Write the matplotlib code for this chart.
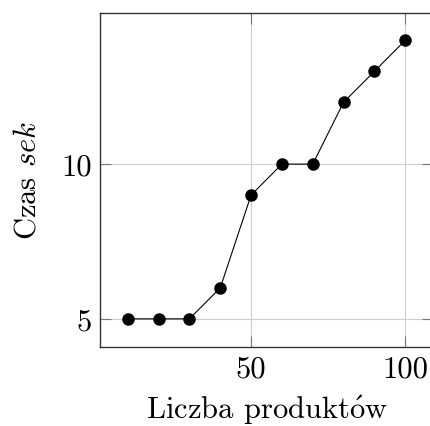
import matplotlib
matplotlib.use("Agg")
import matplotlib.pyplot as plt

# dane
liczba_produktow = [10, 20, 30, 40, 50, 60, 70, 80, 90, 100]
czas_sek = [5, 5, 5, 6, 9, 10, 10, 12, 13, 14]
x_ticks = [50, 100]
y_ticks = [5, 10]

plt.rcParams['font.family'] = ['cmr10', 'DejaVu Serif']
plt.rcParams['mathtext.fontset'] = 'cm'
plt.rcParams['axes.formatter.use_mathtext'] = True

fig = plt.figure(figsize=(4.31, 4.27), dpi=100)
ax = fig.add_axes([100 / 431, 1 - 347.7 / 427, 333 / 431, (347.7 - 13.5) / 427])

ax.plot(liczba_produktow, czas_sek, color='black', linewidth=0.8,
        marker='o', markersize=8, zorder=3)

ax.set_xlim(1, 109)
ax.set_ylim(4.1, 14.9)
ax.set_xticks(x_ticks)
ax.set_yticks(y_ticks)
ax.set_xticklabels([str(t) for t in x_ticks])
ax.set_yticklabels([str(t) for t in y_ticks])

ax.grid(True, color='#cccccc', linewidth=0.8)
ax.set_axisbelow(True)
ax.tick_params(direction='in', length=8, width=0.8, color='#777777',
               top=True, right=True, labelsize=22, pad=6)
for s in ax.spines.values():
    s.set_color('#333333')
    s.set_linewidth(1.0)

ax.set_xlabel(r'Liczba produkt$\acute{\mathrm{o}}$w', fontsize=22, labelpad=7)
ax.set_ylabel(r'Czas $sek$', fontsize=22, labelpad=14)

fig.savefig('out.png', dpi=100)
